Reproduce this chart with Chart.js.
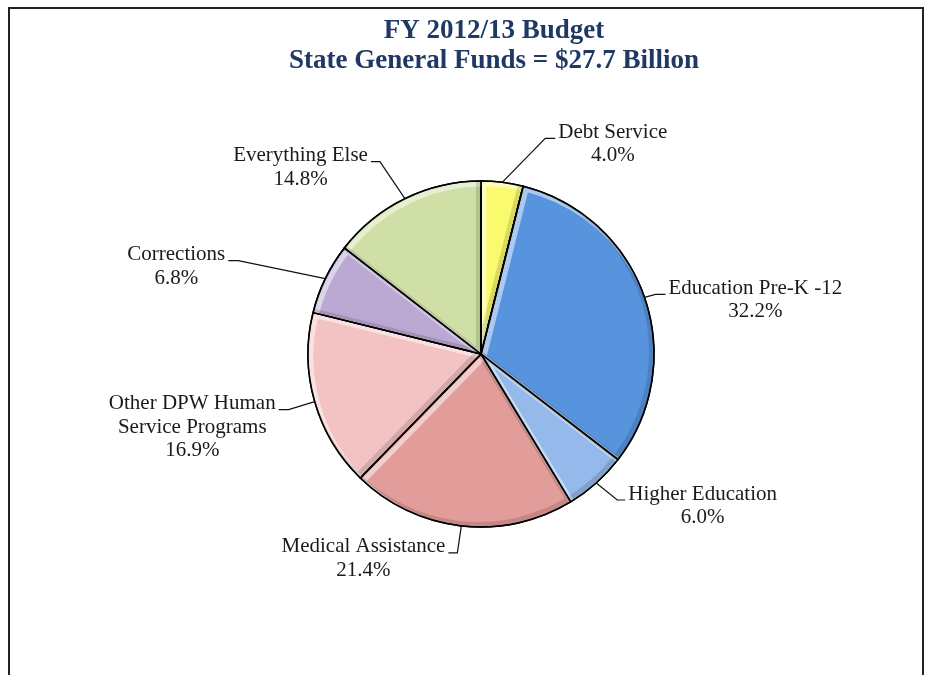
<!DOCTYPE html>
<html>
<head>
<meta charset="utf-8">
<script src="https://cdn.jsdelivr.net/npm/chart.js@4.4.0/dist/chart.umd.min.js"></script>
<style>
  html, body { margin: 0; padding: 0; background: #fff; }
  #wrap { position: relative; width: 934px; height: 675px; }
</style>
</head>
<body>
<div id="wrap"><canvas id="budgetChart" width="934" height="675"></canvas></div>
<script>
// chart data
const titleLines = ['FY 2012/13 Budget', 'State General Funds = $27.7 Billion'];
const categories = [
    'Debt Service',
    'Education Pre-K -12',
    'Higher Education',
    'Medical Assistance',
    ['Other DPW Human', 'Service Programs'],
    'Corrections',
    'Everything Else'
];
const shares = [4.0, 32.2, 6.0, 21.4, 16.9, 6.8, 14.8];

const sliceColors = ['#FAFA6E', '#5894DD', '#95B9EA', '#E29C9A', '#F2C3C2', '#BBA9D3', '#CFDFA5'];

// where each callout elbow sits, relative to the slice edge (side: 1 = text right, -1 = left)
const callouts = [
    { dx: 43,  dy: -44, tick: 10, side: 1 },
    { dx: 11,  dy: -3,  tick: 10, side: 1 },
    { dx: 21,  dy: 17,  tick: 8,  side: 1 },
    { dx: -4,  dy: 27,  tick: 9,  side: -1 },
    { dx: -26, dy: 8,   tick: 10, side: -1 },
    { dx: -87, dy: -18, tick: 10, side: -1 },
    { dx: -25, dy: -37, tick: 9,  side: -1 }
];

const LABEL_FONT = '21px "Liberation Serif", serif';
const TITLE_FONT = 'bold 27px "Liberation Serif", serif';

function arcPath(ctx, a) {
    ctx.beginPath();
    ctx.moveTo(a.x, a.y);
    ctx.arc(a.x, a.y, a.outerRadius, a.startAngle, a.endAngle);
    ctx.closePath();
}

const framePlugin = {
    id: 'frame',
    beforeDraw(chart) {
        const ctx = chart.ctx;
        ctx.save();
        ctx.fillStyle = '#fff';
        ctx.fillRect(0, 0, chart.width, chart.height);
        ctx.strokeStyle = '#222';
        ctx.lineWidth = 2;
        ctx.beginPath();
        ctx.moveTo(9, 700);
        ctx.lineTo(9, 8);
        ctx.lineTo(923, 8);
        ctx.lineTo(923, 700);
        ctx.stroke();

        ctx.fillStyle = '#1F3864';
        ctx.font = TITLE_FONT;
        ctx.textAlign = 'center';
        ctx.textBaseline = 'alphabetic';
        ctx.fillText(titleLines[0], 494, 38);
        ctx.fillText(titleLines[1], 494, 68);
        ctx.restore();
    }
};

// fake the bevelled look of the original slices
const bevelPlugin = {
    id: 'bevel',
    afterDatasetsDraw(chart) {
        const ctx = chart.ctx;
        chart.getDatasetMeta(0).data.forEach(arc => {
            const a = arc.getProps(['x', 'y', 'startAngle', 'endAngle', 'outerRadius'], true);
            ctx.save();
            arcPath(ctx, a);
            ctx.clip();
            ctx.lineJoin = 'round';
            ctx.save();
            ctx.translate(3, 3);
            arcPath(ctx, a);
            ctx.strokeStyle = 'rgba(255,255,255,0.5)';
            ctx.lineWidth = 5;
            ctx.stroke();
            ctx.restore();
            ctx.save();
            ctx.translate(-2.5, -2.5);
            arcPath(ctx, a);
            ctx.strokeStyle = 'rgba(0,0,0,0.13)';
            ctx.lineWidth = 5;
            ctx.stroke();
            ctx.restore();
            ctx.restore();
            ctx.save();
            arcPath(ctx, a);
            ctx.strokeStyle = '#000';
            ctx.lineWidth = 1.5;
            ctx.lineJoin = 'round';
            ctx.stroke();
            ctx.restore();
        });
    }
};

const calloutPlugin = {
    id: 'callouts',
    afterDatasetsDraw(chart) {
        const ctx = chart.ctx;
        chart.getDatasetMeta(0).data.forEach((arc, i) => {
            const a = arc.getProps(['x', 'y', 'startAngle', 'endAngle', 'outerRadius'], true);
            const mid = (a.startAngle + a.endAngle) / 2;
            const ex = a.x + Math.cos(mid) * a.outerRadius;
            const ey = a.y + Math.sin(mid) * a.outerRadius;
            const c = callouts[i];
            const bx = ex + c.dx, by = ey + c.dy;
            const tx = bx + c.side * c.tick;

            ctx.save();
            ctx.strokeStyle = '#111';
            ctx.lineWidth = 1.2;
            ctx.beginPath();
            ctx.moveTo(ex, ey);
            ctx.lineTo(bx, by);
            ctx.lineTo(tx, by);
            ctx.stroke();

            const lines = [].concat(chart.data.labels[i], shares[i].toFixed(1) + '%');
            ctx.font = LABEL_FONT;
            ctx.fillStyle = '#1a1a1a';
            ctx.textAlign = 'center';
            ctx.textBaseline = 'middle';
            const w0 = ctx.measureText(lines[0]).width;
            const cx = c.side > 0 ? tx + 3 + w0 / 2 : tx - 3 - w0 / 2;
            lines.forEach((t, k) => ctx.fillText(t, cx, by - 6 + k * 23.5));
            ctx.restore();
        });
    }
};

new Chart(document.getElementById('budgetChart').getContext('2d'), {
    type: 'pie',
    data: {
        labels: categories,
        datasets: [{
            data: shares,
            backgroundColor: sliceColors,
            borderColor: '#000',
            borderWidth: 1.5
        }]
    },
    options: {
        responsive: false,
        animation: false,
        radius: 173,
        layout: { padding: { left: 308, right: 280, top: 181, bottom: 148 } },
        plugins: {
            legend: { display: false },
            title: { display: false },
            tooltip: { enabled: false }
        }
    },
    plugins: [framePlugin, bevelPlugin, calloutPlugin]
});
</script>
</body>
</html>
